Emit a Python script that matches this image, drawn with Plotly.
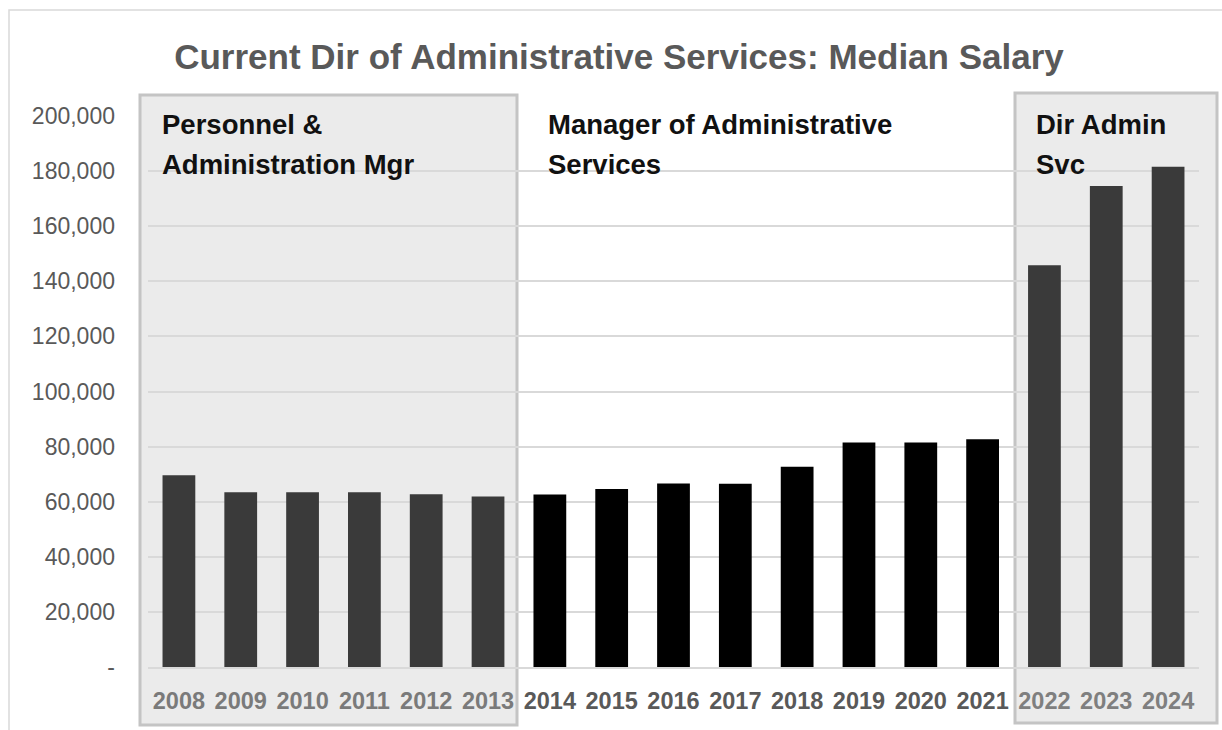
import plotly.graph_objects as go

years = [str(y) for y in range(2008, 2025)]
salaries = [69600, 63400, 63400, 63400, 62700, 61900, 62600, 64600, 66600, 66500,
            72700, 81500, 81500, 82700, 145800, 174600, 181600]
groups = ["P"] * 6 + ["M"] * 8 + ["D"] * 3
group_colors = {"P": "#3a3a3a", "M": "#000000", "D": "#3a3a3a"}
label_colors = {"P": "#7a7a7a", "M": "#595959", "D": "#7f7f7f"}
y_ticks = [0, 20000, 40000, 60000, 80000, 100000, 120000, 140000, 160000, 180000, 200000]
y_tick_text = ["-"] + [f"{v:,}" for v in y_ticks[1:]]
title_text = "Current Dir of Administrative Services: Median Salary"
group_titles = [
    ("Personnel &", "Administration Mgr"),
    ("Manager of Administrative", "Services"),
    ("Dir Admin", "Svc"),
]

W, H = 1222, 730
L, R, T, B = 148, 23, 116, 63
pw, ph = W - L - R, H - T - B

def px(x):
    return (x - L) / pw

def py(y):
    return (H - B - y) / ph

fig = go.Figure()
fig.add_trace(go.Bar(
    x=years, y=salaries,
    marker=dict(color=[group_colors[g] for g in groups], line=dict(width=0)),
    width=0.53,
    hoverinfo="x+y",
))

shapes = []
# outer chart border
shapes.append(dict(type="rect", xref="paper", yref="paper",
                   x0=px(9), x1=px(1300), y0=py(800), y1=py(10),
                   line=dict(color="#d9d9d9", width=1.5), fillcolor="rgba(0,0,0,0)", layer="below"))
# shaded group boxes
for (x0, x1, y0, y1) in [(140, 517, 725, 95), (1015, 1217, 723, 93)]:
    shapes.append(dict(type="rect", xref="paper", yref="paper",
                       x0=px(x0), x1=px(x1), y0=py(y0), y1=py(y1),
                       line=dict(color="#c4c4c4", width=3), fillcolor="#ebebeb", layer="below"))
fig.update_layout(shapes=shapes)

annos = []
for (line1, line2), xpix in zip(group_titles, [160, 546, 1034]):
    for txt, ypix in [(line1, 125), (line2, 164)]:
        annos.append(dict(text=f"<b>{txt}</b>", xref="paper", yref="paper",
                          x=px(xpix), y=py(ypix), xanchor="left", yanchor="middle",
                          showarrow=False,
                          font=dict(family="Liberation Sans, Arial", size=27.5, color="#111111")))
fig.update_layout(annotations=annos)

fig.update_layout(
    width=W, height=H,
    margin=dict(l=L, r=R, t=T, b=B),
    paper_bgcolor="white",
    plot_bgcolor="rgba(0,0,0,0)",
    showlegend=False,
    bargap=0.47,
    title=dict(text=f"<b>{title_text}</b>", xref="container", yref="container",
               x=619 / W, y=1 - 57 / H, xanchor="center", yanchor="middle",
               font=dict(family="Liberation Sans, Arial", size=35, color="#595959")),
    xaxis=dict(
        type="category",
        tickvals=years,
        ticktext=[f"<span style='color:{label_colors[g]}'><b>{y}</b></span>" for y, g in zip(years, groups)],
        tickfont=dict(family="Liberation Sans, Arial", size=23.5, color="#595959"),
        showgrid=False, ticks="", showline=True, linecolor="#d9d9d9", linewidth=1.5,
        ticklabelstandoff=12,
        range=[-0.5, 16.5],
    ),
    yaxis=dict(
        range=[0, 200000],
        tickvals=y_ticks, ticktext=y_tick_text,
        tickfont=dict(family="Liberation Sans, Arial", size=23, color="#595959"),
        showgrid=True, gridcolor="#d9d9d9", gridwidth=1.5,
        zeroline=False, showline=False, ticks="",
        ticklabelstandoff=32,
    ),
)

fig.write_html("out.html")
